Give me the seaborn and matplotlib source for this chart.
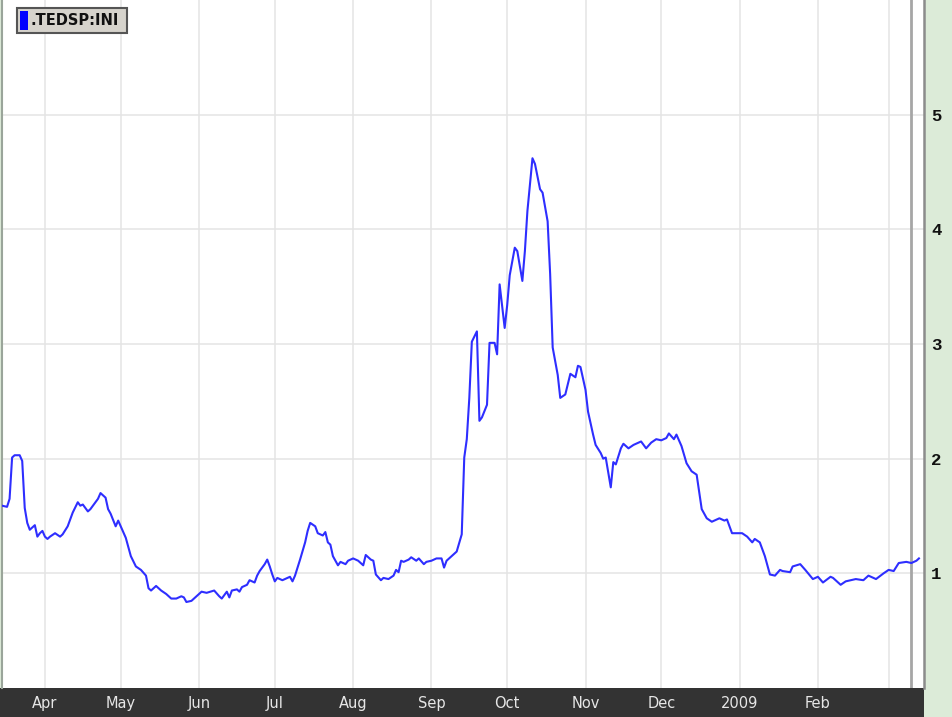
import matplotlib
matplotlib.use("Agg")
import matplotlib.pyplot as plt
from matplotlib.patches import Rectangle
import seaborn as sns
import pandas as pd

# ---- data ----
start_date = "2008-04-01"
day_offset = [-17, -15, -14, -13, -12, -10, -9, -8, -7, -6, -5, -4, -3, -2, -1, 0, 1, 2, 4, 6,
              7, 9, 11, 13, 14, 15, 17, 18, 20, 21, 22, 24, 25, 26, 28, 29, 30, 32, 34, 36,
              38, 40, 41, 42, 44, 46, 48, 50, 52, 54, 55, 56, 58, 60, 62, 64, 67, 69, 70, 72,
              73, 74, 76, 77, 78, 80, 81, 83, 84, 85, 87, 88, 89, 90, 91, 92, 94, 95, 97, 98,
              99, 101, 103, 104, 105, 107, 108, 110, 111, 112, 113, 114, 116, 117, 119, 120, 122, 124, 126, 127,
              129, 130, 131, 133, 134, 136, 138, 139, 140, 141, 142, 144, 145, 147, 148, 150, 151, 153, 155, 157,
              158, 159, 161, 163, 165, 166, 167, 168, 169, 171, 172, 173, 175, 176, 178, 179, 180, 182, 183, 184,
              186, 187, 189, 190, 191, 193, 194, 196, 197, 199, 200, 201, 203, 204, 206, 207, 208, 210, 211, 212,
              214, 215, 217, 218, 220, 221, 222, 224, 225, 226, 228, 229, 231, 233, 236, 238, 240, 242, 244, 246,
              247, 249, 250, 252, 254, 256, 258, 260, 262, 264, 267, 269, 270, 272, 276, 278, 280, 281, 283, 285,
              287, 289, 291, 292, 295, 296, 299, 301, 304, 306, 308, 311, 312, 315, 317, 321, 324, 326, 329, 332,
              334, 336, 338, 341, 343, 345, 346]
ted_spread = [1.59, 1.58, 1.65, 2.01, 2.03, 2.03, 1.98, 1.57, 1.44, 1.38, 1.40, 1.42, 1.32, 1.35, 1.37, 1.32, 1.30, 1.32, 1.35, 1.32,
              1.34, 1.41, 1.53, 1.62, 1.59, 1.60, 1.54, 1.56, 1.62, 1.65, 1.70, 1.66, 1.56, 1.52, 1.41, 1.46, 1.41, 1.31, 1.15, 1.06,
              1.03, 0.98, 0.87, 0.85, 0.89, 0.85, 0.82, 0.78, 0.78, 0.80, 0.79, 0.75, 0.76, 0.80, 0.84, 0.83, 0.85, 0.80, 0.78, 0.84,
              0.79, 0.85, 0.86, 0.84, 0.88, 0.90, 0.94, 0.92, 0.98, 1.02, 1.08, 1.12, 1.06, 0.99, 0.93, 0.96, 0.94, 0.95, 0.97, 0.93,
              0.98, 1.12, 1.27, 1.37, 1.44, 1.41, 1.35, 1.33, 1.36, 1.27, 1.25, 1.15, 1.07, 1.10, 1.08, 1.11, 1.13, 1.11, 1.07, 1.16,
              1.12, 1.11, 0.99, 0.94, 0.96, 0.95, 0.98, 1.03, 1.01, 1.11, 1.10, 1.12, 1.14, 1.11, 1.13, 1.08, 1.10, 1.11, 1.13, 1.13,
              1.05, 1.11, 1.15, 1.19, 1.34, 2.01, 2.17, 2.53, 3.02, 3.11, 2.33, 2.36, 2.47, 3.01, 3.01, 2.91, 3.52, 3.14, 3.34, 3.60,
              3.84, 3.81, 3.55, 3.81, 4.16, 4.62, 4.57, 4.35, 4.32, 4.07, 3.61, 2.97, 2.73, 2.53, 2.56, 2.65, 2.74, 2.71, 2.81, 2.80,
              2.60, 2.41, 2.21, 2.12, 2.05, 2.00, 2.01, 1.75, 1.97, 1.95, 2.09, 2.13, 2.09, 2.12, 2.15, 2.09, 2.14, 2.17, 2.16, 2.18,
              2.22, 2.17, 2.21, 2.11, 1.96, 1.89, 1.86, 1.56, 1.48, 1.45, 1.48, 1.46, 1.47, 1.35, 1.35, 1.32, 1.27, 1.30, 1.27, 1.15,
              0.99, 0.98, 1.03, 1.02, 1.01, 1.06, 1.08, 1.03, 0.95, 0.97, 0.92, 0.97, 0.96, 0.90, 0.93, 0.95, 0.94, 0.98, 0.95, 1.00,
              1.03, 1.02, 1.09, 1.10, 1.09, 1.11, 1.13]
month_ticks = ["2008-04-01", "2008-05-01", "2008-06-01", "2008-07-01", "2008-08-01", "2008-09-01",
               "2008-10-01", "2008-11-01", "2008-12-01", "2009-01-01", "2009-02-01", "2009-03-01"]
month_labels = ["Apr", "May", "Jun", "Jul", "Aug", "Sep", "Oct", "Nov", "Dec", "2009", "Feb", ""]
y_ticks = [1, 2, 3, 4, 5]
series_name = ".TEDSP:INI"
marker_date = "2009-03-10"

dates = pd.to_datetime(start_date) + pd.to_timedelta(day_offset, unit="D")
df = pd.DataFrame({"date": dates, "value": ted_spread})

# ---- figure ----
W, H = 952, 717
fig = plt.figure(figsize=(W / 100, H / 100), dpi=100)
fig.patch.set_facecolor("#dcebd8")

ax_l, ax_b, ax_r, ax_t = 2, 29, 924, 717
ax = fig.add_axes([ax_l / W, ax_b / H, (ax_r - ax_l) / W, (ax_t - ax_b) / H])
ax.set_facecolor("white")
ax.set_zorder(1)

# dark bottom bar (drawn beneath the axes so tick labels stay visible)
fig.patches.append(Rectangle((0, 0), ax_r / W, ax_b / H, transform=fig.transFigure,
                             facecolor="#333333", edgecolor="none", zorder=-1))

# grid
for t in month_ticks:
    ax.axvline(pd.Timestamp(t), color="#e4e4e4", lw=1.1, zorder=1)
for y in y_ticks:
    ax.axhline(y, color="#e4e4e4", lw=1.1, zorder=1)
ax.axvline(pd.Timestamp(marker_date), color="#a6a6a6", lw=2, zorder=1)

sns.lineplot(data=df, x="date", y="value", ax=ax, color="#2e2eff", linewidth=1.5, zorder=3)

ax.set_xlim(pd.Timestamp("2008-03-15"), pd.Timestamp("2009-03-15"))
ax.set_ylim(0, 6)
ax.set_xlabel("")
ax.set_ylabel("")

ax.set_xticks(pd.to_datetime(month_ticks))
ax.set_xticklabels(month_labels, family=["Liberation Sans Narrow", "DejaVu Sans"], fontsize=10.5)
ax.tick_params(axis="x", length=0, pad=6, labelcolor="#e6e6e6")

ax.yaxis.tick_right()
ax.set_yticks(y_ticks)
ax.set_yticklabels([str(v) for v in y_ticks], family=["Liberation Mono", "DejaVu Sans Mono"],
                   fontweight="bold", fontsize=12.5)
ax.tick_params(axis="y", length=0, pad=5, labelcolor="#111111")

for side in ["top", "bottom"]:
    ax.spines[side].set_visible(False)
ax.spines["left"].set_color("#9aa59a")
ax.spines["left"].set_linewidth(1.5)
ax.spines["right"].set_color("#8c8c8c")
ax.spines["right"].set_linewidth(1.8)

# legend box
box = Rectangle((17 / W, (H - 33) / H), 110 / W, 25 / H, transform=fig.transFigure,
                facecolor="#d6d3cc", edgecolor="#555555", lw=1.5, zorder=5)
fig.patches.append(box)
fig.patches.append(Rectangle((20 / W, (H - 30) / H), 8 / W, 19 / H, transform=fig.transFigure,
                             facecolor="#0000ff", edgecolor="none", zorder=6))
txt = fig.text(30 / W, (H - 20.5) / H, series_name, fontsize=10.5, fontweight="bold",
               family="DejaVu Sans", color="#111111", va="center", ha="left", zorder=7)
txt.set_clip_path(box)

fig.savefig("out.png", dpi=100, facecolor=fig.get_facecolor())
